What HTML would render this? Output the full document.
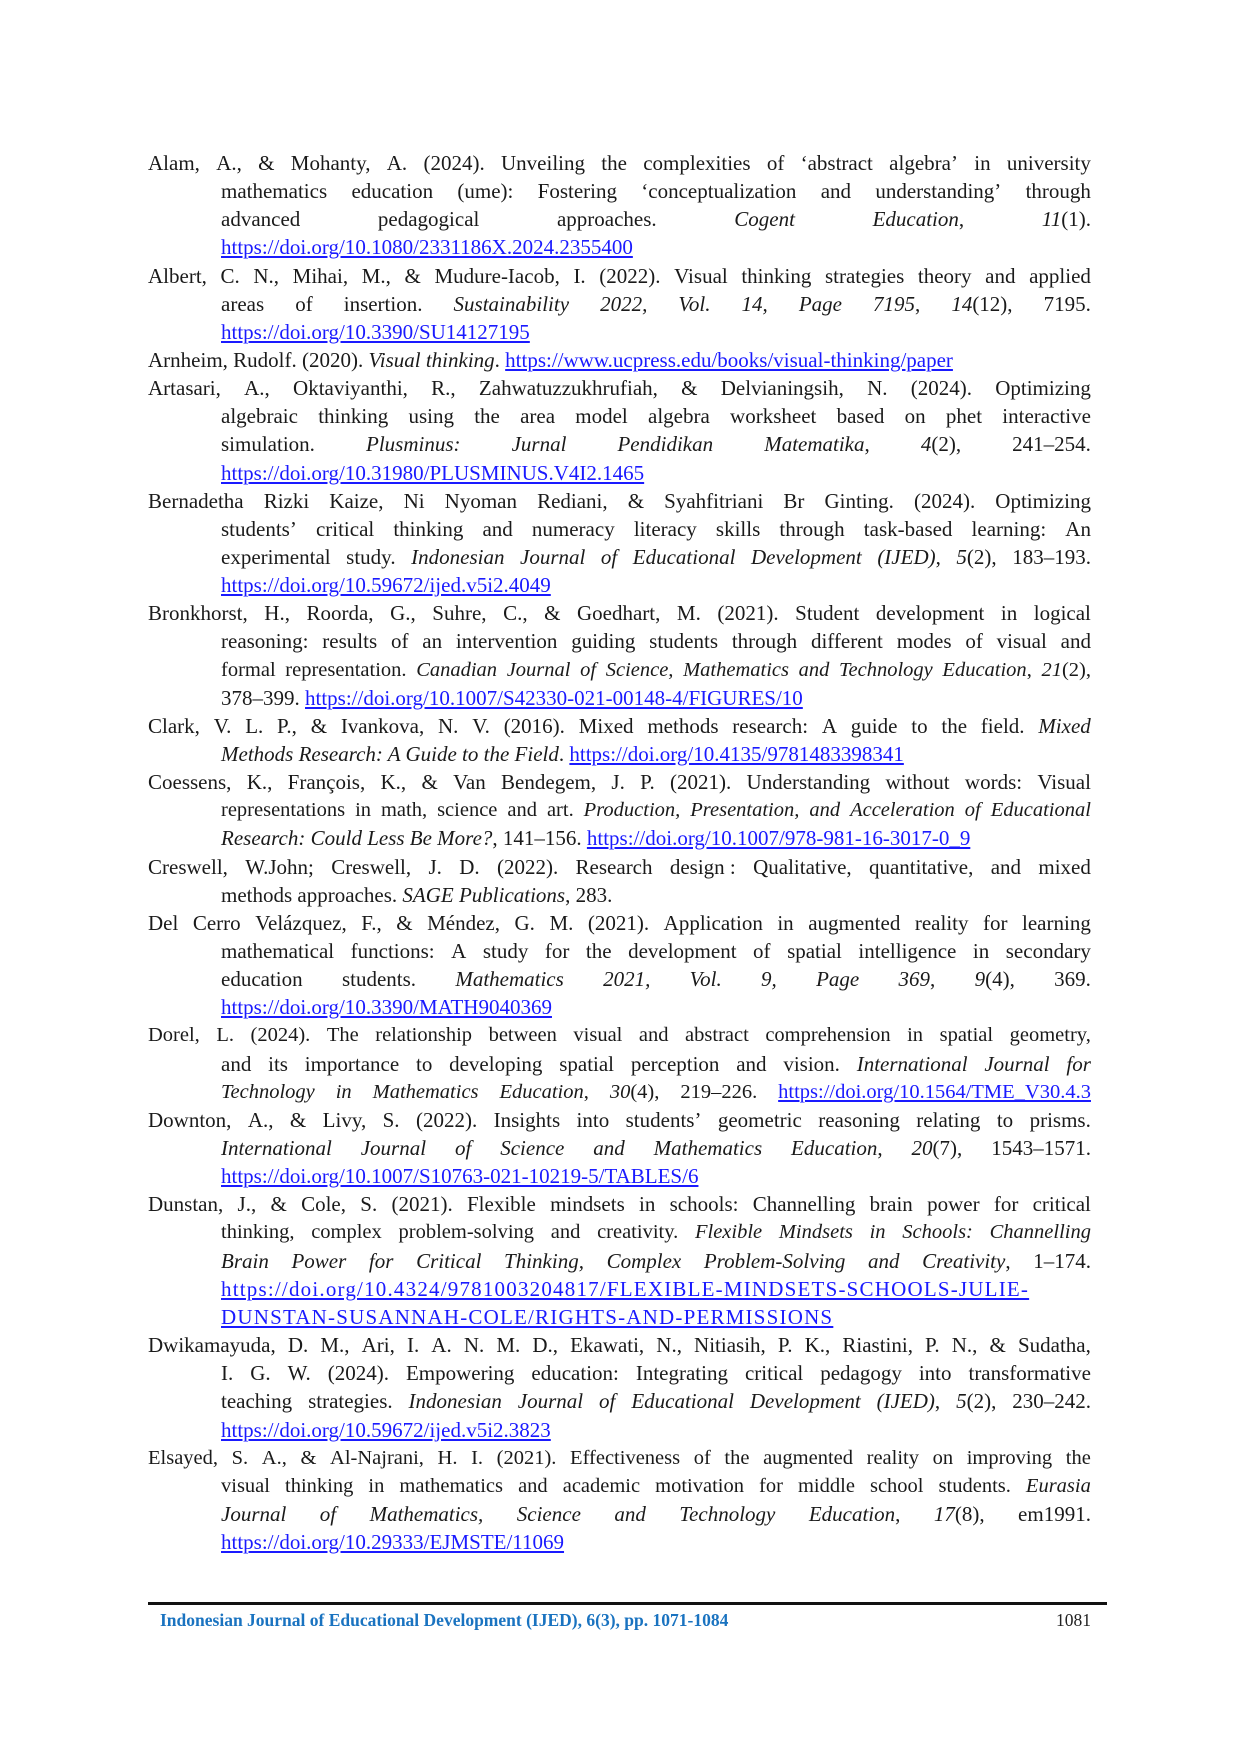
<!DOCTYPE html>
<html><head><meta charset="utf-8"><style>
html,body{margin:0;padding:0;background:#fff;}
body{width:1240px;height:1754px;position:relative;overflow:hidden;font-family:"Liberation Serif",serif;color:#1a1a1a;}
.l{position:absolute;left:148px;width:943px;height:28px;line-height:28px;font-size:21px;white-space:nowrap;}
.i{left:221px;width:870px;}
.j{display:flex;justify-content:space-between;}
a{color:#1a1aff;text-decoration:underline;}
em{font-style:italic;}
.ft{position:absolute;left:148px;top:1602px;width:959px;height:3px;background:#111;}
.fx{position:absolute;left:160px;top:1610px;font-size:17.5px;font-weight:bold;color:#1a73c0;}
.pn{position:absolute;left:1056px;top:1610px;font-size:17.5px;color:#222;}
</style></head><body>
<div class="l j" style="top:149px"><span>Alam,</span><span>A.,</span><span>&amp;</span><span>Mohanty,</span><span>A.</span><span>(2024).</span><span>Unveiling</span><span>the</span><span>complexities</span><span>of</span><span>‘abstract</span><span>algebra’</span><span>in</span><span>university</span></div>
<div class="l i j" style="top:177px"><span>mathematics</span><span>education</span><span>(ume):</span><span>Fostering</span><span>‘conceptualization</span><span>and</span><span>understanding’</span><span>through</span></div>
<div class="l i j" style="top:205px"><span>advanced</span><span>pedagogical</span><span>approaches.</span><span><em>Cogent</em></span><span><em>Education</em>,</span><span><em>11</em>(1).</span></div>
<div class="l i" style="top:233px"><a>https://doi.org/10.1080/2331186X.2024.2355400</a></div>
<div class="l j" style="top:262px"><span>Albert,</span><span>C.</span><span>N.,</span><span>Mihai,</span><span>M.,</span><span>&amp;</span><span>Mudure-Iacob,</span><span>I.</span><span>(2022).</span><span>Visual</span><span>thinking</span><span>strategies</span><span>theory</span><span>and</span><span>applied</span></div>
<div class="l i j" style="top:290px"><span>areas</span><span>of</span><span>insertion.</span><span><em>Sustainability</em></span><span><em>2022,</em></span><span><em>Vol.</em></span><span><em>14,</em></span><span><em>Page</em></span><span><em>7195</em>,</span><span><em>14</em>(12),</span><span>7195.</span></div>
<div class="l i" style="top:318px"><a>https://doi.org/10.3390/SU14127195</a></div>
<div class="l" style="top:346px">Arnheim, Rudolf. (2020). <em>Visual thinking</em>. <a>https://www.ucpress.edu/books/visual-thinking/paper</a></div>
<div class="l j" style="top:374px"><span>Artasari,</span><span>A.,</span><span>Oktaviyanthi,</span><span>R.,</span><span>Zahwatuzzukhrufiah,</span><span>&amp;</span><span>Delvianingsih,</span><span>N.</span><span>(2024).</span><span>Optimizing</span></div>
<div class="l i j" style="top:402px"><span>algebraic</span><span>thinking</span><span>using</span><span>the</span><span>area</span><span>model</span><span>algebra</span><span>worksheet</span><span>based</span><span>on</span><span>phet</span><span>interactive</span></div>
<div class="l i j" style="top:430px"><span>simulation.</span><span><em>Plusminus:</em></span><span><em>Jurnal</em></span><span><em>Pendidikan</em></span><span><em>Matematika</em>,</span><span><em>4</em>(2),</span><span>241–254.</span></div>
<div class="l i" style="top:459px"><a>https://doi.org/10.31980/PLUSMINUS.V4I2.1465</a></div>
<div class="l j" style="top:487px"><span>Bernadetha</span><span>Rizki</span><span>Kaize,</span><span>Ni</span><span>Nyoman</span><span>Rediani,</span><span>&amp;</span><span>Syahfitriani</span><span>Br</span><span>Ginting.</span><span>(2024).</span><span>Optimizing</span></div>
<div class="l i j" style="top:515px"><span>students’</span><span>critical</span><span>thinking</span><span>and</span><span>numeracy</span><span>literacy</span><span>skills</span><span>through</span><span>task-based</span><span>learning:</span><span>An</span></div>
<div class="l i j" style="top:543px"><span>experimental</span><span>study.</span><span><em>Indonesian</em></span><span><em>Journal</em></span><span><em>of</em></span><span><em>Educational</em></span><span><em>Development</em></span><span><em>(IJED)</em>,</span><span><em>5</em>(2),</span><span>183–193.</span></div>
<div class="l i" style="top:571px"><a>https://doi.org/10.59672/ijed.v5i2.4049</a></div>
<div class="l j" style="top:599px"><span>Bronkhorst,</span><span>H.,</span><span>Roorda,</span><span>G.,</span><span>Suhre,</span><span>C.,</span><span>&amp;</span><span>Goedhart,</span><span>M.</span><span>(2021).</span><span>Student</span><span>development</span><span>in</span><span>logical</span></div>
<div class="l i j" style="top:627px"><span>reasoning:</span><span>results</span><span>of</span><span>an</span><span>intervention</span><span>guiding</span><span>students</span><span>through</span><span>different</span><span>modes</span><span>of</span><span>visual</span><span>and</span></div>
<div class="l i j" style="top:656px;font-size:20.5px"><span>formal</span><span>representation.</span><span><em>Canadian</em></span><span><em>Journal</em></span><span><em>of</em></span><span><em>Science,</em></span><span><em>Mathematics</em></span><span><em>and</em></span><span><em>Technology</em></span><span><em>Education</em>,</span><span><em>21</em>(2),</span></div>
<div class="l i" style="top:684px">378–399. <a>https://doi.org/10.1007/S42330-021-00148-4/FIGURES/10</a></div>
<div class="l j" style="top:712px"><span>Clark,</span><span>V.</span><span>L.</span><span>P.,</span><span>&amp;</span><span>Ivankova,</span><span>N.</span><span>V.</span><span>(2016).</span><span>Mixed</span><span>methods</span><span>research:</span><span>A</span><span>guide</span><span>to</span><span>the</span><span>field.</span><span><em>Mixed</em></span></div>
<div class="l i" style="top:740px"><em>Methods Research: A Guide to the Field</em>. <a>https://doi.org/10.4135/9781483398341</a></div>
<div class="l j" style="top:768px"><span>Coessens,</span><span>K.,</span><span>François,</span><span>K.,</span><span>&amp;</span><span>Van</span><span>Bendegem,</span><span>J.</span><span>P.</span><span>(2021).</span><span>Understanding</span><span>without</span><span>words:</span><span>Visual</span></div>
<div class="l i j" style="top:796px;font-size:20.5px"><span>representations</span><span>in</span><span>math,</span><span>science</span><span>and</span><span>art.</span><span><em>Production,</em></span><span><em>Presentation,</em></span><span><em>and</em></span><span><em>Acceleration</em></span><span><em>of</em></span><span><em>Educational</em></span></div>
<div class="l i" style="top:824px"><em>Research: Could Less Be More?</em>, 141–156. <a>https://doi.org/10.1007/978-981-16-3017-0_9</a></div>
<div class="l j" style="top:853px"><span>Creswell,</span><span>W.John;</span><span>Creswell,</span><span>J.</span><span>D.</span><span>(2022).</span><span>Research</span><span>design :</span><span>Qualitative,</span><span>quantitative,</span><span>and</span><span>mixed</span></div>
<div class="l i" style="top:881px">methods approaches. <em>SAGE Publications</em>, 283.</div>
<div class="l j" style="top:909px"><span>Del</span><span>Cerro</span><span>Velázquez,</span><span>F.,</span><span>&amp;</span><span>Méndez,</span><span>G.</span><span>M.</span><span>(2021).</span><span>Application</span><span>in</span><span>augmented</span><span>reality</span><span>for</span><span>learning</span></div>
<div class="l i j" style="top:937px"><span>mathematical</span><span>functions:</span><span>A</span><span>study</span><span>for</span><span>the</span><span>development</span><span>of</span><span>spatial</span><span>intelligence</span><span>in</span><span>secondary</span></div>
<div class="l i j" style="top:965px"><span>education</span><span>students.</span><span><em>Mathematics</em></span><span><em>2021,</em></span><span><em>Vol.</em></span><span><em>9,</em></span><span><em>Page</em></span><span><em>369</em>,</span><span><em>9</em>(4),</span><span>369.</span></div>
<div class="l i" style="top:993px"><a>https://doi.org/10.3390/MATH9040369</a></div>
<div class="l j" style="top:1021px;font-size:20.5px"><span>Dorel,</span><span>L.</span><span>(2024).</span><span>The</span><span>relationship</span><span>between</span><span>visual</span><span>and</span><span>abstract</span><span>comprehension</span><span>in</span><span>spatial</span><span>geometry,</span></div>
<div class="l i j" style="top:1050px"><span>and</span><span>its</span><span>importance</span><span>to</span><span>developing</span><span>spatial</span><span>perception</span><span>and</span><span>vision.</span><span><em>International</em></span><span><em>Journal</em></span><span><em>for</em></span></div>
<div class="l i j" style="top:1078px;font-size:20.5px"><span><em>Technology</em></span><span><em>in</em></span><span><em>Mathematics</em></span><span><em>Education</em>,</span><span><em>30</em>(4),</span><span>219–226.</span><span><a>https://doi.org/10.1564/TME_V30.4.3</a></span></div>
<div class="l j" style="top:1106px"><span>Downton,</span><span>A.,</span><span>&amp;</span><span>Livy,</span><span>S.</span><span>(2022).</span><span>Insights</span><span>into</span><span>students’</span><span>geometric</span><span>reasoning</span><span>relating</span><span>to</span><span>prisms.</span></div>
<div class="l i j" style="top:1134px"><span><em>International</em></span><span><em>Journal</em></span><span><em>of</em></span><span><em>Science</em></span><span><em>and</em></span><span><em>Mathematics</em></span><span><em>Education</em>,</span><span><em>20</em>(7),</span><span>1543–1571.</span></div>
<div class="l i" style="top:1162px"><a>https://doi.org/10.1007/S10763-021-10219-5/TABLES/6</a></div>
<div class="l j" style="top:1190px"><span>Dunstan,</span><span>J.,</span><span>&amp;</span><span>Cole,</span><span>S.</span><span>(2021).</span><span>Flexible</span><span>mindsets</span><span>in</span><span>schools:</span><span>Channelling</span><span>brain</span><span>power</span><span>for</span><span>critical</span></div>
<div class="l i j" style="top:1218px;font-size:20.5px"><span>thinking,</span><span>complex</span><span>problem-solving</span><span>and</span><span>creativity.</span><span><em>Flexible</em></span><span><em>Mindsets</em></span><span><em>in</em></span><span><em>Schools:</em></span><span><em>Channelling</em></span></div>
<div class="l i j" style="top:1247px"><span><em>Brain</em></span><span><em>Power</em></span><span><em>for</em></span><span><em>Critical</em></span><span><em>Thinking,</em></span><span><em>Complex</em></span><span><em>Problem-Solving</em></span><span><em>and</em></span><span><em>Creativity</em>,</span><span>1–174.</span></div>
<div class="l i" style="top:1275px;font-size:21px;letter-spacing:1.2px"><a>https://doi.org/10.4324/9781003204817/FLEXIBLE-MINDSETS-SCHOOLS-JULIE-</a></div>
<div class="l i" style="top:1303px;font-size:21px;letter-spacing:1.2px"><a>DUNSTAN-SUSANNAH-COLE/RIGHTS-AND-PERMISSIONS</a></div>
<div class="l j" style="top:1331px"><span>Dwikamayuda,</span><span>D.</span><span>M.,</span><span>Ari,</span><span>I.</span><span>A.</span><span>N.</span><span>M.</span><span>D.,</span><span>Ekawati,</span><span>N.,</span><span>Nitiasih,</span><span>P.</span><span>K.,</span><span>Riastini,</span><span>P.</span><span>N.,</span><span>&amp;</span><span>Sudatha,</span></div>
<div class="l i j" style="top:1359px"><span>I.</span><span>G.</span><span>W.</span><span>(2024).</span><span>Empowering</span><span>education:</span><span>Integrating</span><span>critical</span><span>pedagogy</span><span>into</span><span>transformative</span></div>
<div class="l i j" style="top:1387px"><span>teaching</span><span>strategies.</span><span><em>Indonesian</em></span><span><em>Journal</em></span><span><em>of</em></span><span><em>Educational</em></span><span><em>Development</em></span><span><em>(IJED)</em>,</span><span><em>5</em>(2),</span><span>230–242.</span></div>
<div class="l i" style="top:1416px"><a>https://doi.org/10.59672/ijed.v5i2.3823</a></div>
<div class="l j" style="top:1444px;font-size:20.5px"><span>Elsayed,</span><span>S.</span><span>A.,</span><span>&amp;</span><span>Al-Najrani,</span><span>H.</span><span>I.</span><span>(2021).</span><span>Effectiveness</span><span>of</span><span>the</span><span>augmented</span><span>reality</span><span>on</span><span>improving</span><span>the</span></div>
<div class="l i j" style="top:1472px;font-size:20.5px"><span>visual</span><span>thinking</span><span>in</span><span>mathematics</span><span>and</span><span>academic</span><span>motivation</span><span>for</span><span>middle</span><span>school</span><span>students.</span><span><em>Eurasia</em></span></div>
<div class="l i j" style="top:1500px"><span><em>Journal</em></span><span><em>of</em></span><span><em>Mathematics,</em></span><span><em>Science</em></span><span><em>and</em></span><span><em>Technology</em></span><span><em>Education</em>,</span><span><em>17</em>(8),</span><span>em1991.</span></div>
<div class="l i" style="top:1528px"><a>https://doi.org/10.29333/EJMSTE/11069</a></div>
<div class="ft"></div>
<div class="fx">Indonesian Journal of Educational Development (IJED), 6(3), pp. 1071-1084</div>
<div class="pn">1081</div>
</body></html>
